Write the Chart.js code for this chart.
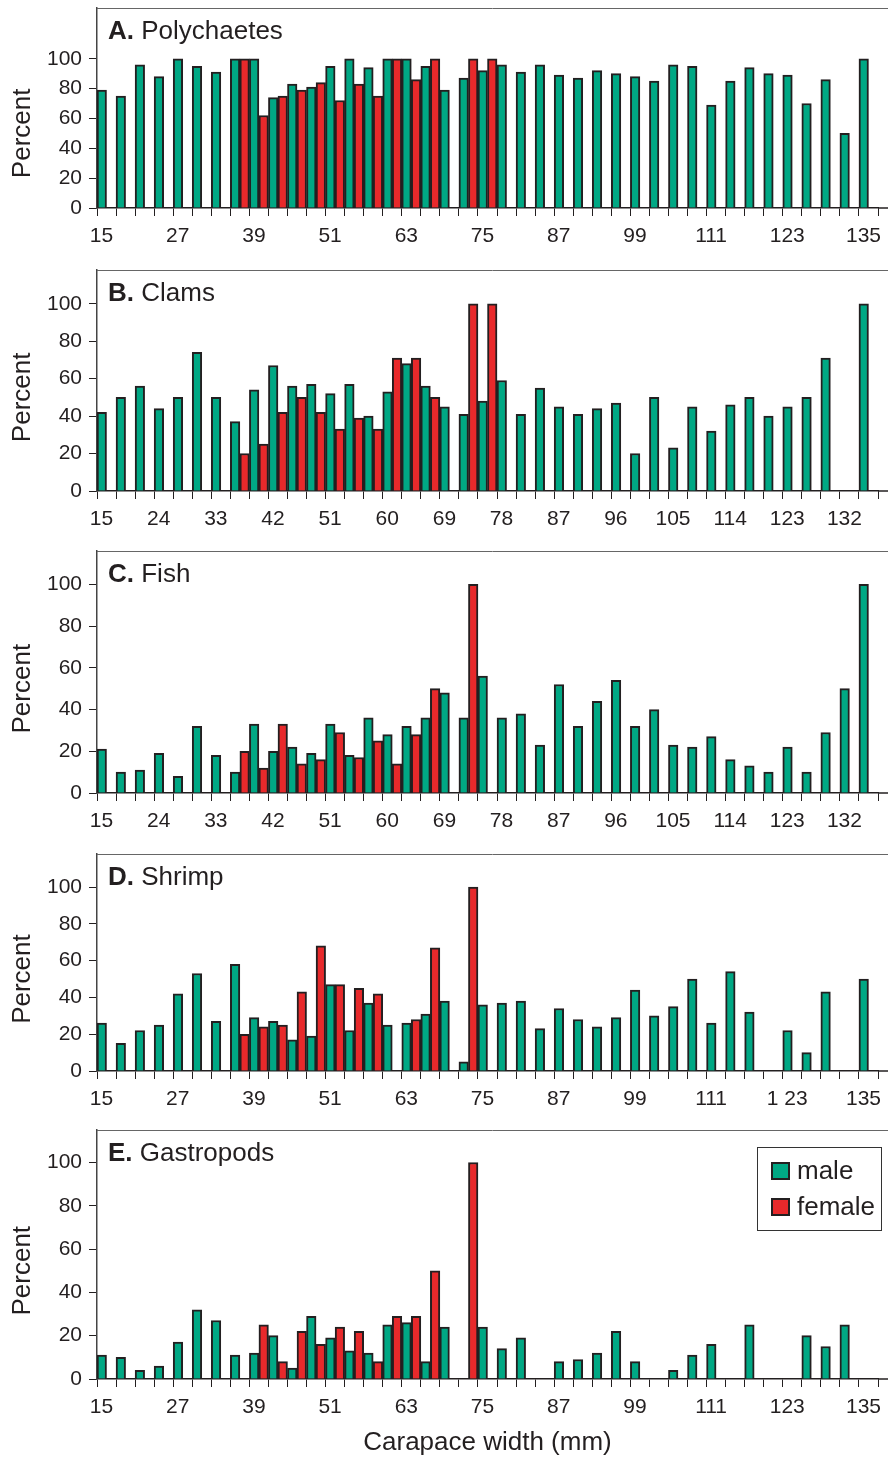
<!DOCTYPE html>
<html>
<head>
<meta charset="utf-8">
<script src="https://cdn.jsdelivr.net/npm/chart.js@4.4.1/dist/chart.umd.min.js"></script>
<style>
  html, body { margin: 0; padding: 0; background: #fff; }
  body { width: 888px; height: 1458px; position: relative; overflow: hidden; }
  canvas { position: absolute; left: 0; }
</style>
</head>
<body>
<canvas id="panelA"></canvas>
<canvas id="panelB"></canvas>
<canvas id="panelC"></canvas>
<canvas id="panelD"></canvas>
<canvas id="panelE"></canvas>
<script>
const _ = null;

// Carapace width classes (mm)
const widths = ['15','18','21','24','27','30','33','36','39','42','45','48','51','54','57','60','63','66','69','72',
                '75','78','81','84','87','90','93','96','99','102','105','108','111','114','117','120','123','126','129','132','135'];

// Percent of crabs with each prey type in the gut
const maleA   = [79,75,96,88,100,95,91,100,100,74,83,81,95,100,94,100,100,95,79,87,92,96,91,96,89,87,92,90,88,85,96,95,69,85,94,90,89,70,86,50,100];
const femaleA = [_,_,_,_,_,_,_,100,62,75,79,84,72,83,75,100,86,100,_,100,100,_,_,_,_,_,_,_,_,_,_,_,_,_,_,_,_,_,_,_,_];

const maleB   = [42,50,56,44,50,74,50,37,54,67,56,57,52,57,40,53,68,56,45,41,48,59,41,55,45,41,44,47,20,50,23,45,32,46,50,40,45,50,71,_,100];
const femaleB = [_,_,_,_,_,_,_,20,25,42,50,42,33,39,33,71,71,50,_,100,100,_,_,_,_,_,_,_,_,_,_,_,_,_,_,_,_,_,_,_,_];

const maleC   = [21,10,11,19,8,32,18,10,33,20,22,19,33,18,36,28,32,36,48,36,56,36,38,23,52,32,44,54,32,40,23,22,27,16,13,10,22,10,29,50,100];
const femaleC = [_,_,_,_,_,_,_,20,12,33,14,16,29,17,25,14,28,50,_,100,_,_,_,_,_,_,_,_,_,_,_,_,_,_,_,_,_,_,_,_,_];

const maleD   = [26,15,22,25,42,53,27,58,29,27,17,19,47,22,37,25,26,31,38,5,36,37,38,23,34,28,24,29,44,30,35,50,26,54,32,_,22,10,43,_,50];
const femaleD = [_,_,_,_,_,_,_,20,24,25,43,68,47,45,42,_,28,67,_,100,_,_,_,_,_,_,_,_,_,_,_,_,_,_,_,_,_,_,_,_,_];

const maleE   = [11,10,4,6,17,32,27,11,12,20,5,29,19,13,12,25,26,8,24,_,24,14,19,_,8,9,12,22,8,_,4,11,16,_,25,_,_,20,15,25,_];
const femaleE = [_,_,_,_,_,_,_,_,25,8,22,16,24,22,8,29,29,50,_,100,_,_,_,_,_,_,_,_,_,_,_,_,_,_,_,_,_,_,_,_,_];

// Axis tick labels
const yTicks = [0, 20, 40, 60, 80, 100];
const xTicksBy4 = ['15','27','39','51','63','75','87','99','111','123','135'];
const xTicksBy3 = ['15','24','33','42','51','60','69','78','87','96','105','114','123','132'];
const xTicksD   = ['15','27','39','51','63','75','87','99','111','1 23','135'];

const FONT = "'Liberation Sans', Arial, Helvetica, sans-serif";
const INK = '#231F20';
const MALE = '#00A884';
const FEMALE = '#E8292B';
const TITLE_PX = 26;
const TICK_PX = 21;

// Panel frame, heading and y-axis title
const panelDecor = {
  id: 'panelDecor',
  afterDraw(chart, args, opts) {
    const ctx = chart.ctx, a = chart.chartArea, ys = chart.scales.y;
    ctx.save();
    ctx.strokeStyle = '#666';
    ctx.lineWidth = 1;
    ctx.beginPath();
    ctx.moveTo(a.left, Math.round(a.top) + 0.5);
    ctx.lineTo(chart.width, Math.round(a.top) + 0.5);
    ctx.stroke();
    ctx.strokeStyle = INK;
    ctx.lineWidth = 1.5;
    ctx.beginPath();
    ctx.moveTo(a.right, a.bottom);
    ctx.lineTo(chart.width, a.bottom);
    ctx.stroke();

    ctx.fillStyle = INK;
    ctx.textAlign = 'left';
    ctx.textBaseline = 'alphabetic';
    ctx.font = 'bold ' + TITLE_PX + 'px ' + FONT;
    ctx.fillText(opts.letter, a.left + 11, a.top + 31);
    const w = ctx.measureText(opts.letter).width;
    ctx.font = TITLE_PX + 'px ' + FONT;
    ctx.fillText(' ' + opts.name, a.left + 11 + w, a.top + 31);

    const yc = (ys.getPixelForValue(yTicks[0]) + ys.getPixelForValue(yTicks[yTicks.length - 1])) / 2;
    ctx.translate(23, yc);
    ctx.rotate(-Math.PI / 2);
    ctx.textAlign = 'center';
    ctx.textBaseline = 'middle';
    ctx.fillText('Percent', 0, 0);
    ctx.restore();
  }
};

// Boxed legend in the upper right of the plot, plus the shared x-axis title
const boxLegend = {
  id: 'boxLegend',
  afterDraw(chart, args, opts) {
    if (!opts.show) return;
    const ctx = chart.ctx, a = chart.chartArea;
    ctx.save();
    const bw = 124, bh = 83;
    const bx = a.right + 3 - bw, by = a.top + 17;
    ctx.strokeStyle = '#333';
    ctx.lineWidth = 1;
    ctx.strokeRect(Math.round(bx) + 0.5, Math.round(by) + 0.5, bw, bh);
    ctx.font = TITLE_PX + 'px ' + FONT;
    ctx.textAlign = 'left';
    ctx.textBaseline = 'middle';
    chart.data.datasets.forEach((ds, i) => {
      const sy = by + 15 + i * 36;
      ctx.fillStyle = ds.backgroundColor;
      ctx.fillRect(bx + 14, sy, 19, 18);
      ctx.strokeStyle = INK;
      ctx.lineWidth = 2;
      ctx.strokeRect(bx + 15, sy + 1, 17, 16);
      ctx.fillStyle = INK;
      ctx.fillText(ds.label, bx + 40, sy + 10);
    });
    ctx.textAlign = 'center';
    ctx.textBaseline = 'middle';
    ctx.fillText(opts.xTitle, (a.left + a.right) / 2, a.bottom + 64);
    ctx.restore();
  }
};

const panels = [
  { id: 'panelA', letter: 'A.', name: 'Polychaetes', male: maleA, female: femaleA, xLabels: xTicksBy4, step: 4, yMax: 134, frameTop: 8,    axisY: 208 },
  { id: 'panelB', letter: 'B.', name: 'Clams',       male: maleB, female: femaleB, xLabels: xTicksBy3, step: 3, yMax: 118, frameTop: 270,  axisY: 491 },
  { id: 'panelC', letter: 'C.', name: 'Fish',        male: maleC, female: femaleC, xLabels: xTicksBy3, step: 3, yMax: 116, frameTop: 551,  axisY: 793 },
  { id: 'panelD', letter: 'D.', name: 'Shrimp',      male: maleD, female: femaleD, xLabels: xTicksD,   step: 4, yMax: 118, frameTop: 854,  axisY: 1071 },
  { id: 'panelE', letter: 'E.', name: 'Gastropods',  male: maleE, female: femaleE, xLabels: xTicksBy4, step: 4, yMax: 115, frameTop: 1130, axisY: 1379, legend: true }
];

const X_AXIS_H = 44;
const Y_AXIS_W = 97;
const PAD_TOP = 2;

panels.forEach(p => {
  const canvas = document.getElementById(p.id);
  const extra = p.legend ? 40 : 0;
  canvas.width = 888;
  canvas.height = (p.axisY - p.frameTop) + PAD_TOP + X_AXIS_H + extra;
  canvas.style.top = (p.frameTop - PAD_TOP) + 'px';

  new Chart(canvas, {
    type: 'bar',
    data: {
      labels: widths,
      datasets: [
        { label: 'male',   data: p.male,   backgroundColor: MALE,   borderColor: INK, borderWidth: 2 },
        { label: 'female', data: p.female, backgroundColor: FEMALE, borderColor: INK, borderWidth: 2 }
      ]
    },
    options: {
      responsive: false,
      animation: false,
      devicePixelRatio: 1,
      layout: { padding: { top: PAD_TOP, right: 10, left: 0, bottom: extra } },
      datasets: { bar: { categoryPercentage: 1, barPercentage: 1 } },
      scales: {
        x: {
          offset: true,
          grid: { offset: true, drawOnChartArea: false, tickLength: 8, color: INK, lineWidth: 1 },
          border: { display: true, color: INK, width: 1.5 },
          ticks: {
            autoSkip: false, maxRotation: 0, minRotation: 0,
            color: INK, font: { family: FONT, size: TICK_PX }, padding: 8, labelOffset: -5,
            callback: (v, i) => (i % p.step === 0 && p.xLabels[i / p.step] !== undefined) ? p.xLabels[i / p.step] : ''
          },
          afterFit: s => { s.height = X_AXIS_H; s.paddingLeft = 0; s.paddingRight = 0; }
        },
        y: {
          min: 0, max: p.yMax,
          grid: { drawOnChartArea: false, tickLength: 8, color: INK, lineWidth: 1 },
          border: { display: true, color: '#444', width: 1.5 },
          ticks: { color: INK, font: { family: FONT, size: TICK_PX }, padding: 7 },
          afterBuildTicks: s => { s.ticks = yTicks.map(v => ({ value: v })); },
          afterFit: s => { s.width = Y_AXIS_W; s.paddingTop = 0; s.paddingBottom = 0; }
        }
      },
      plugins: {
        legend: { display: false },
        tooltip: { enabled: false },
        panelDecor: { letter: p.letter, name: p.name },
        boxLegend: { show: !!p.legend, xTitle: 'Carapace width (mm)' }
      }
    },
    plugins: [panelDecor, boxLegend]
  });
});
</script>
</body>
</html>
